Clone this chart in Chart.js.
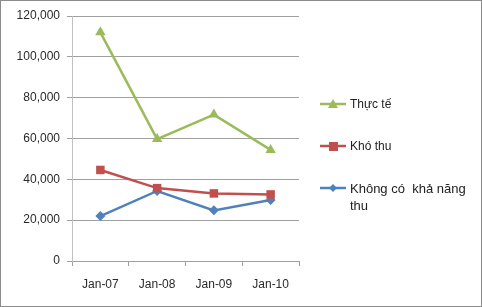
<!DOCTYPE html>
<html>
<head>
<meta charset="utf-8">
<script src="https://cdn.jsdelivr.net/npm/chart.js@4/dist/chart.umd.min.js"></script>
<style>
html,body{margin:0;padding:0;background:#fff;}
#wrap{position:relative;width:482px;height:307px;overflow:hidden;}
#c{position:absolute;left:0;top:0;}
#frame{position:absolute;left:0;top:0;width:482px;height:307px;box-sizing:border-box;border:1px solid #8c8c8c;pointer-events:none;}
.lg{position:absolute;left:320px;font-family:"Liberation Sans",Arial,sans-serif;font-size:12px;color:#222;line-height:16px;}
.lg svg{position:absolute;left:0;top:0;}
.lg span{position:absolute;left:30px;top:0;white-space:pre;}
</style>
</head>
<body>
<div id="wrap">
<canvas id="c" width="482" height="307"></canvas>
<div id="legend"></div>
<div id="frame"></div>
</div>
<script>
const categories = ["Jan-07", "Jan-08", "Jan-09", "Jan-10"];
const thucTe = [112000, 59700, 71700, 54400];
const khoThu = [44600, 35700, 33100, 32600];
const khongCoKhaNangThu = [22000, 34300, 24800, 29900];
const seriesNames = ["Thực tế", "Khó thu", "Không có  khả năng thu"];
const yTicks = [0, 20000, 40000, 60000, 80000, 100000, 120000];

const colors = ["#9BBB59", "#C0504D", "#4F81BD"];
const styles = ["triangle", "rect", "rectRot"];
const radii = [6, 6, 5];

const datasets = [thucTe, khoThu, khongCoKhaNangThu].map((d, i) => ({
  label: seriesNames[i],
  data: d,
  borderColor: colors[i],
  backgroundColor: colors[i],
  borderWidth: 2.5,
  pointStyle: styles[i],
  pointRadius: radii[i],
  pointBorderWidth: 0,
  pointBackgroundColor: colors[i],
  tension: 0
}));

const font = {family: "'Liberation Sans', Arial, sans-serif", size: 12};

new Chart(document.getElementById('c'), {
  type: 'line',
  data: {labels: categories, datasets: datasets},
  options: {
    responsive: false,
    animation: false,
    layout: {padding: {left: 0, top: 16, right: 183, bottom: 0}},
    plugins: {legend: {display: false}, tooltip: {enabled: false}},
    scales: {
      x: {
        offset: true,
        grid: {offset: true, drawOnChartArea: false, drawTicks: true, tickLength: 5, color: '#a0a0a0'},
        border: {display: true, color: '#a0a0a0'},
        ticks: {font: font, color: '#2a2a2a', padding: 11, maxRotation: 0},
        afterFit: s => { s.height = 46; }
      },
      y: {
        min: 0, max: 120000,
        afterBuildTicks: s => { s.ticks = yTicks.map(v => ({value: v})); },
        grid: {color: '#a0a0a0', tickLength: 5, drawTicks: true},
        border: {display: true, color: '#c0c0c0'},
        ticks: {font: font, color: '#2a2a2a', padding: 7,
          callback: v => v.toLocaleString('en-US')},
        afterFit: s => { s.width = 72; }
      }
    }
  }
});

// HTML legend
const legendTops = [96, 138, 180];
const lg = document.getElementById('legend');
seriesNames.forEach((name, i) => {
  const d = document.createElement('div');
  d.className = 'lg';
  d.style.top = legendTops[i] + 'px';
  let marker = '';
  const c = colors[i];
  if (styles[i] === 'triangle') marker = `<polygon points="13,3 18,12 8,12" fill="${c}"/>`;
  else if (styles[i] === 'rect') marker = `<rect x="9" y="4" width="9" height="9" fill="${c}"/>`;
  else marker = `<polygon points="13,4 17,8 13,12 9,8" fill="${c}"/>`;
  d.innerHTML = `<svg width="28" height="16"><line x1="0" y1="8" x2="26" y2="8" stroke="${c}" stroke-width="2.5"/>${marker}</svg>`;
  const sp = document.createElement('span');
  if (i === 2) { sp.style.fontSize = '13px'; sp.style.whiteSpace = 'pre-wrap'; sp.style.width = '125px'; sp.style.lineHeight = '17px'; }
  sp.textContent = name;
  d.appendChild(sp);
  lg.appendChild(d);
});
</script>
</body>
</html>
